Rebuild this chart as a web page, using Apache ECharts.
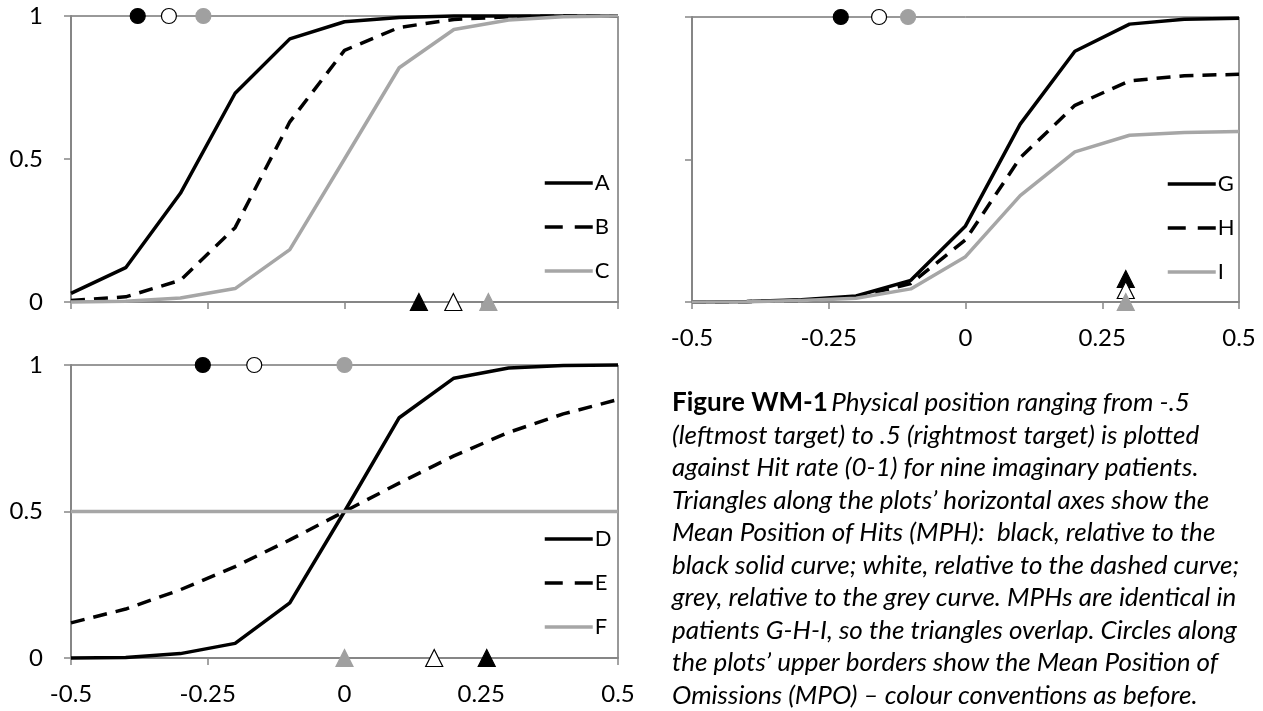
<!DOCTYPE html>
<html lang="en">
<head>
    <meta charset="UTF-8">
    <title>Figure WM-1</title>
    <script src="https://cdn.jsdelivr.net/npm/echarts@6.0.0/dist/echarts.min.js"></script>
    <style>
        body { margin: 0; background: #fff; }
    </style>
</head>
<body>
<div id="main" style="width: 1263px; height: 711px;"></div>
<script type="text/javascript">
    // positions along the screen (-.5 leftmost target, .5 rightmost)
    var xs = [-0.5, -0.4, -0.3, -0.2, -0.1, 0, 0.1, 0.2, 0.3, 0.4, 0.5];

    // hit rates
    var serA = [0.03, 0.12, 0.38, 0.73, 0.92, 0.98, 0.995, 1, 1, 1, 1];
    var serB = [0.005, 0.018, 0.076, 0.26, 0.63, 0.88, 0.96, 0.988, 0.997, 1, 1];
    var serC = [0, 0.003, 0.014, 0.047, 0.183, 0.5, 0.819, 0.953, 0.986, 0.997, 1];
    var serD = [0, 0.002, 0.015, 0.05, 0.188, 0.5, 0.82, 0.955, 0.99, 0.998, 1];
    var serE = [0.12, 0.167, 0.233, 0.312, 0.403, 0.5, 0.597, 0.69, 0.77, 0.833, 0.882];
    var serF = [0.5, 0.5, 0.5, 0.5, 0.5, 0.5, 0.5, 0.5, 0.5, 0.5, 0.5];
    var serG = [0, 0.002, 0.008, 0.021, 0.076, 0.267, 0.624, 0.88, 0.975, 0.992, 0.996];
    var serH = [0, 0.001, 0.006, 0.017, 0.065, 0.218, 0.506, 0.69, 0.776, 0.794, 0.799];
    var serI = [0, 0.001, 0.005, 0.013, 0.046, 0.159, 0.373, 0.527, 0.585, 0.595, 0.598];

    // mean position of omissions (circles) and of hits (triangles): black, white, grey
    var mpoABC = [-0.378, -0.321, -0.258];
    var mphABC = [0.136, 0.199, 0.263];
    var mpoGHI = [-0.228, -0.158, -0.105];
    var mphGHI = [0.293, 0.293, 0.293];
    var mpoDEF = [-0.259, -0.165, 0];
    var mphDEF = [0.26, 0.164, 0];

    var BLACK = '#000000';
    var GREY = '#a6a6a6';
    var AXIS = '#868686';
    var FONT = 'Lato';

    var fills = [BLACK, '#ffffff', '#a0a0a0'];
    var borders = [BLACK, BLACK, '#a0a0a0'];

    function pairs(vals) {
        return xs.map(function (x, i) { return [x, vals[i]]; });
    }

    function lineSeries(name, vals, g, color, dashed) {
        return {
            name: name,
            type: 'line',
            xAxisIndex: g,
            yAxisIndex: g,
            data: pairs(vals),
            symbol: 'none',
            clip: false,
            z: 3,
            lineStyle: {color: color, width: 3.5, type: dashed ? [14, 9] : 'solid'},
            itemStyle: {color: color}
        };
    }

    function markerSeries(vals, yVal, g, shape, size, shifts) {
        return {
            type: 'scatter',
            xAxisIndex: g,
            yAxisIndex: g,
            symbol: shape,
            symbolSize: size,
            clip: false,
            z: 5,
            silent: true,
            data: vals.map(function (v, i) {
                return {
                    value: [v, yVal],
                    symbolOffset: [0, shifts ? shifts[i] : 0],
                    itemStyle: {color: fills[i], borderColor: borders[i], borderWidth: 1.2, opacity: 1}
                };
            })
        };
    }

    function xAxisFor(g, labels) {
        return {
            type: 'value', gridIndex: g, min: -0.5, max: 0.5, interval: 0.25,
            axisLine: {show: true, onZero: false, lineStyle: {color: AXIS, width: 2}},
            axisTick: {show: true, length: 7, lineStyle: {color: AXIS, width: 1.5}},
            splitLine: {show: false},
            axisLabel: {show: labels, margin: 24, color: '#000', fontFamily: FONT, fontSize: 24}
        };
    }

    function yAxisFor(g, labels) {
        return {
            type: 'value', gridIndex: g, min: 0, max: 1, interval: 0.5,
            axisLine: {show: true, onZero: false, lineStyle: {color: AXIS, width: 2}},
            axisTick: {show: true, length: 7, lineStyle: {color: AXIS, width: 1.5}},
            splitLine: {show: false},
            axisLabel: {show: labels, margin: 28, color: '#000', fontFamily: FONT, fontSize: 24}
        };
    }

    // names[1] is always the dashed series of the panel
    function legendFor(names, left, top) {
        return {
            data: [
                {name: names[0]},
                {name: names[1], lineStyle: {type: [18, 12]}},
                {name: names[2]}
            ],
            orient: 'vertical',
            left: left,
            top: top,
            itemWidth: 48,
            itemHeight: 14,
            itemGap: 20,
            selectedMode: false,
            lineStyle: {width: 3.5},
            // hide the circle that line series put in the middle of the legend line
            itemStyle: {color: 'rgba(0,0,0,0)', borderWidth: 0},
            textStyle: {color: '#000', fontFamily: FONT, fontSize: 22, lineHeight: 24, padding: [0, 0, 0, -3]}
        };
    }

    var caption = [
        '{b|Figure WM-1} {i|Physical position ranging from -.5}',
        '{i|(leftmost target) to .5 (rightmost target) is plotted}',
        '{i|against Hit rate (0-1) for nine imaginary patients.}',
        '{i|Triangles along the plots\u2019 horizontal axes show the}',
        '{i|Mean Position of Hits (MPH):  black, relative to the}',
        '{i|black solid curve; white, relative to the dashed curve;}',
        '{i|grey, relative to the grey curve. MPHs are identical in}',
        '{i|patients G-H-I, so the triangles overlap. Circles along}',
        '{i|the plots\u2019 upper borders show the Mean Position of}',
        '{i|Omissions (MPO) \u2013 colour conventions as before.}'
    ];

    var gridBase = {show: true, borderColor: '#333', borderWidth: 1, backgroundColor: 'transparent'};

    var option = {
        animation: false,
        backgroundColor: '#ffffff',
        textStyle: {fontFamily: FONT},
        grid: [
            Object.assign({left: 71, top: 16, width: 547, height: 286}, gridBase),
            Object.assign({left: 692, top: 17, width: 547, height: 285}, gridBase),
            Object.assign({left: 71, top: 365, width: 547, height: 293}, gridBase)
        ],
        xAxis: [xAxisFor(0, false), xAxisFor(1, true), xAxisFor(2, true)],
        yAxis: [yAxisFor(0, true), yAxisFor(1, false), yAxisFor(2, true)],
        legend: [
            legendFor(['A', 'B', 'C'], 538, 166),
            legendFor(['G', 'H', 'I'], 1161, 167),
            legendFor(['D', 'E', 'F'], 538, 522)
        ],
        graphic: [{
            type: 'text',
            left: 672,
            top: 390,
            style: {
                text: caption.join('\n'),
                rich: {
                    b: {fontFamily: FONT, fontWeight: 'bold', fontSize: 26, lineHeight: 32.5, fill: '#000'},
                    i: {fontFamily: FONT, fontStyle: 'italic', fontSize: 26, lineHeight: 32.5, fill: '#000'}
                }
            }
        }],
        series: [
            lineSeries('A', serA, 0, BLACK, false),
            lineSeries('B', serB, 0, BLACK, true),
            lineSeries('C', serC, 0, GREY, false),
            markerSeries(mpoABC, 1, 0, 'circle', 15),
            markerSeries(mphABC, 0, 0, 'triangle', 17),

            lineSeries('G', serG, 1, BLACK, false),
            lineSeries('H', serH, 1, BLACK, true),
            lineSeries('I', serI, 1, GREY, false),
            markerSeries(mpoGHI, 1, 1, 'circle', 15),
            markerSeries(mphGHI, 0, 1, 'triangle', 17, [-23, -12, 0]),

            lineSeries('D', serD, 2, BLACK, false),
            lineSeries('E', serE, 2, BLACK, true),
            lineSeries('F', serF, 2, GREY, false),
            markerSeries(mpoDEF, 1, 2, 'circle', 15),
            markerSeries(mphDEF, 0, 2, 'triangle', 17)
        ]
    };

    var myChart = echarts.init(document.getElementById('main'));
    myChart.setOption(option);
</script>
</body>
</html>
